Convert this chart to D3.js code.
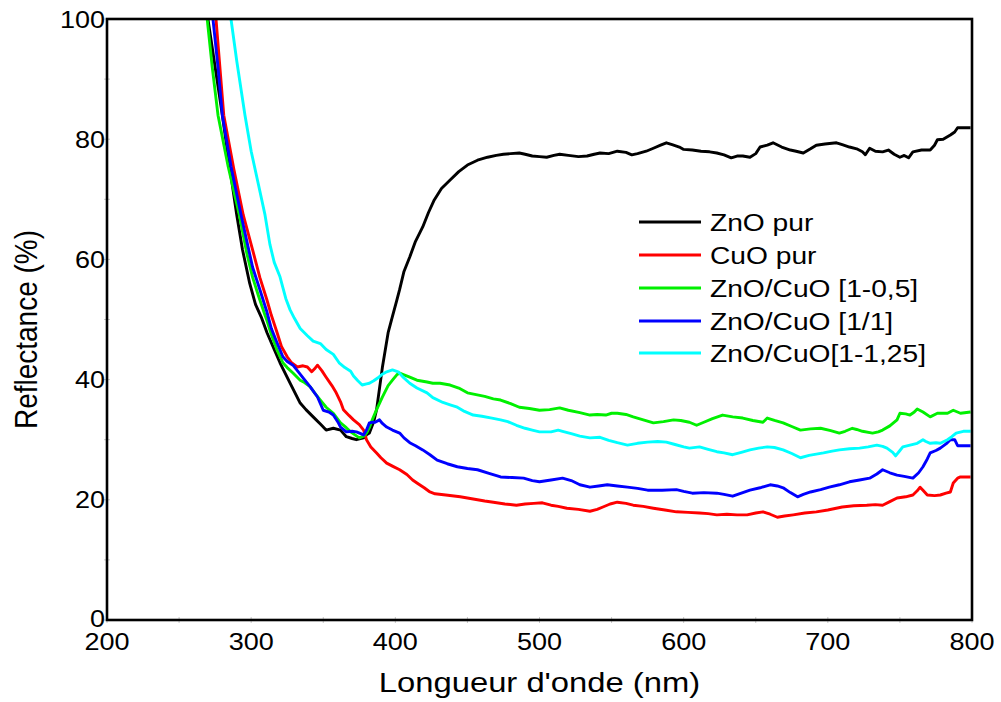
<!DOCTYPE html>
<html>
<head>
<meta charset="utf-8">
<script src="https://cdn.jsdelivr.net/npm/d3@7"></script>
<style>
  html, body { margin: 0; padding: 0; background: #fff; }
  svg { display: block; }
  text { font-family: "Liberation Sans", Arial, sans-serif; fill: #000; }
</style>
</head>
<body>
<svg id="chart" width="1001" height="702"></svg>
<script>
// Diffuse reflectance spectra, [wavelength (nm), reflectance (%)]
const znoPur = [[270,100],[275,92],[280,84],[285,75.5],[290,67.4],[294,61.6],[299,56],[303,52.5],[307,50.4],[311,47.8],[316,45],[320,42.8],[327,39.4],[334,36.1],[338,35],[343,33.8],[348,32.6],[352,31.6],[357,31.9],[362,31.6],[366,30.5],[370,30.2],[373,30],[378,30.3],[380,30.8],[382,31.1],[385,33],[387,35],[389,38.5],[391,42],[395,47.8],[398,50.5],[401,53.2],[403,55],[406,58],[410,60.4],[414,63],[419,65.4],[423,67.8],[427,69.9],[432,71.8],[438,73.2],[444,74.6],[450,75.7],[457,76.5],[464,77],[470,77.3],[475,77.5],[480,77.6],[486,77.7],[490,77.5],[495,77.2],[500,77.1],[505,77],[510,77.3],[514,77.5],[520,77.3],[527,77.1],[533,77.2],[538,77.5],[542,77.7],[548,77.6],[554,78],[560,77.8],[564,77.4],[568,77.6],[574,78],[579,78.5],[584,79],[588,79.4],[592,79.1],[597,78.7],[600,78.3],[606,78.2],[612,78],[618,77.9],[623,77.7],[628,77.4],[633,76.9],[637,77.2],[641,77.2],[646,77],[650,77.6],[653,78.7],[658,79],[662,79.4],[668,78.7],[674,78.2],[678,78],[683,77.7],[688,78.4],[692,79],[698,79.2],[706,79.4],[710,79.1],[715,78.7],[720,78.4],[724,77.9],[726,77.4],[729,78.5],[733,78],[738,77.9],[742,78.2],[746,77.5],[750,77],[753,77.3],[756,76.9],[759,77.9],[765,78.2],[771,78.2],[774,79],[776,79.9],[780,80],[785,80.7],[788,81.2],[790,81.9],[795,81.9],[799,81.9]];

const cuoPur = [[275.6,100],[281,84],[288,75],[294.5,67.4],[301,61.6],[306,57],[311,53.2],[314,50.7],[318,47.8],[321,45.5],[325,43.8],[328,42.8],[332,42.1],[336,42.3],[339,42.1],[342,41.3],[344,41.8],[346,42.4],[349,41.5],[352,40.4],[356,39],[359,37.8],[362,36.3],[364,35],[368,34],[371,33.3],[375,32.5],[378,31.6],[380,30],[383,28.8],[387,27.8],[390,27],[394,26.1],[398,25.6],[403,25],[408,24.2],[412,23.3],[415,22.8],[420,22],[424,21.3],[427.5,21],[435,20.8],[445,20.5],[455,20.1],[462,19.8],[468,19.6],[476,19.3],[484,19.1],[490,19.3],[496,19.4],[502,19.5],[508,19.1],[513,18.9],[519,18.6],[527,18.4],[535,18.1],[540,18.4],[544,18.8],[549,19.3],[554,19.6],[560,19.4],[565,19.1],[572,18.9],[579,18.6],[587,18.3],[595,18],[603,17.9],[611,17.8],[617,17.7],[623,17.5],[630,17.6],[637,17.5],[644,17.5],[650,17.8],[655,18],[660,17.6],[665,17.1],[670,17.3],[676,17.5],[684,17.8],[692,18],[700,18.3],[710,18.8],[718,19],[727,19.1],[733,19.2],[738,19.1],[743,19.7],[748,20.3],[754,20.5],[759,20.8],[762,21.5],[764,22.1],[766,21.6],[769,20.8],[774,20.7],[778,20.8],[782,21.1],[785,21.3],[787,22.8],[790,23.6],[792,23.8],[799,23.8]];

const mix1_05 = [[269.5,100],[273,92],[277,84],[284,75.5],[291.8,67.4],[297,61],[301,57],[305,54],[309.6,50.7],[311,49.8],[314,47.5],[318,44.9],[322,42.8],[325,42],[329,41.1],[334,39.9],[337,39.5],[341,38.8],[344,37.8],[348,36.6],[352,35.4],[357,34.4],[362,32.8],[366,32],[369,31.3],[372,30.8],[375,30.3],[378,30.6],[380,31.1],[382,32],[384,33.3],[387,35],[391,37.1],[395,39],[398,39.9],[401,40.8],[403,41.1],[406,40.8],[410,40.4],[415,39.9],[422,39.6],[426,39.4],[431,39.4],[438,39.1],[444,38.6],[450,37.8],[456,37.5],[462,37.2],[468,36.8],[473,36.6],[480,36],[486,35.4],[493,35.2],[500,34.9],[507,35],[514,35.3],[520,34.9],[528,34.5],[535,34.1],[540,34.2],[546,34.1],[550,34.4],[554,34.4],[560,34.2],[565,33.8],[572,33.3],[579,32.8],[586,33],[593,33.3],[598,33.2],[604,32.9],[609,32.4],[614,32.9],[620,33.5],[627,34.1],[634,33.8],[641,33.6],[648,33.2],[655,32.9],[658,33.6],[663,33.2],[669,32.8],[675,32.2],[681,31.6],[688,31.8],[695,31.9],[702,31.5],[708,31.1],[712,31.4],[717,31.9],[720,31.7],[724,31.4],[731,31.1],[735,31.3],[738,31.6],[743,32.3],[748,33.3],[750,34.4],[754,34.3],[757,34.1],[760,34.6],[762,35.1],[766,34.6],[771,33.8],[776,34.4],[780,34.4],[783,34.4],[787,34.9],[792,34.4],[799,34.6]];

const mix1_1 = [[273.5,100],[277,92],[280,84],[286,75.5],[293,67.4],[297,63],[301,58.7],[306,55],[311,51.2],[314,48.5],[318,46.1],[322,43.8],[325,43],[329,42.4],[333,41.2],[336,40.3],[341,38.8],[346,37.1],[350,34.9],[354,34.6],[357,34.1],[360,33],[362,32.1],[366,31.3],[370,31.4],[373,31.3],[376,31],[378,30.8],[380,31.6],[382,32.8],[384,32.9],[386,32.9],[389,33.3],[391,32.7],[394,32.1],[398,31.6],[403,31.1],[406,30.3],[410,29.5],[414,29],[419,28.3],[424,27.5],[429,26.6],[436,26],[443,25.5],[450,25.2],[457,25],[465,24.4],[473,23.8],[481,23.7],[489,23.6],[495,23.2],[500,23],[508,23.3],[516,23.6],[522,23.2],[528,22.5],[535,22.1],[541,22.3],[547,22.5],[554,22.3],[561,22.1],[568,21.9],[575,21.6],[585,21.6],[595,21.7],[600,21.4],[606,21.1],[614,21.2],[623,21.1],[628,20.9],[634,20.6],[640,21.1],[646,21.6],[653,22],[660,22.5],[665,22.3],[669,22],[674,21.2],[679,20.5],[683,20.9],[688,21.3],[695,21.7],[701,22.1],[708,22.5],[715,23],[722,23.3],[729,23.6],[734,24.3],[738,25],[743,24.5],[748,24.1],[753,23.9],[759,23.6],[763,24.5],[766,25.5],[769,26.8],[771,27.8],[775,28.2],[778,28.6],[782,29.3],[785,30],[788,30],[790,29],[795,29],[799,29]];

const mix1_125 = [[286,100],[290,93],[295.7,84],[300,78],[305,72.5],[309.6,67.4],[313,62.5],[316,59.5],[320,57.1],[324,53.5],[327,51.6],[330,50.2],[334,48.5],[339,47.3],[343,46.4],[348,46],[352,45],[357,44.2],[361,42.8],[365,42],[369,41.4],[371,40.6],[374,39.8],[377,39.1],[380,39.3],[382,39.4],[385,39.8],[388,40.3],[391,40.9],[394,41.3],[398,41.6],[402,41.3],[405,40.5],[410,39.4],[415,38.6],[422,37.8],[426,37],[433,36.2],[438,35.8],[443,35.4],[448,34.7],[454,34.1],[460,33.9],[467,33.6],[473,33.3],[478,33],[484,32.4],[490,31.9],[495,31.6],[500,31.3],[508,31.3],[513,31.6],[516,31.4],[522,31],[528,30.6],[535,30.3],[542,30.4],[548,29.9],[554,29.5],[561,29.1],[568,29.4],[575,29.6],[582,29.7],[588,29.6],[594,29.2],[600,28.8],[604,28.6],[611,28.8],[617,28.4],[623,28],[628,27.8],[634,27.5],[640,27.9],[646,28.3],[652,28.6],[658,28.8],[663,28.7],[669,28.3],[675,27.7],[681,27],[687,27.4],[692,27.6],[697,27.8],[703,28.1],[708,28.3],[715,28.5],[722,28.6],[728,28.8],[734,29.1],[738,28.9],[741,28.6],[745,27.9],[747,27.3],[750,28.2],[752,28.8],[757,29.1],[762,29.4],[766,30],[768,29.7],[771,29.4],[775,29.5],[778,29.4],[783,30],[786,30.5],[789,31.1],[794,31.4],[799,31.4]];

const seriesNames = ["ZnO pur", "CuO pur", "ZnO/CuO [1-0,5]", "ZnO/CuO [1/1]", "ZnO/CuO[1-1,25]"];
const seriesColors = ["#000000", "#ff0000", "#00f000", "#0000ff", "#00ffff"];
const seriesData = [znoPur, cuoPur, mix1_05, mix1_1, mix1_125];

const xTicks = [200, 300, 400, 500, 600, 700, 800];
const xMinorTicks = [250, 350, 450, 550, 650, 750];
const yTicks = [0, 20, 40, 60, 80, 100];
const yMinorTicks = [10, 30, 50, 70, 90];

const svg = d3.select("#chart");
const plotLeft = 107, plotRight = 972, plotTop = 19, plotBottom = 620;
const x = d3.scaleLinear().domain([200, 800]).range([plotLeft, plotRight]);
const y = d3.scaleLinear().domain([0, 100]).range([plotBottom, plotTop]);
const stretch = 1.15;

function label(str, px, py, size, anchor) {
  return svg.append("text")
    .attr("transform", `translate(${px},${py}) scale(${stretch},1)`)
    .attr("text-anchor", anchor)
    .style("font-size", size + "px")
    .text(str);
}

svg.append("clipPath").attr("id", "plot-clip")
  .append("rect").attr("x", plotLeft).attr("y", plotTop)
  .attr("width", plotRight - plotLeft).attr("height", plotBottom - plotTop);

// faint tick marks along the bottom and left edges
const tickG = svg.append("g").attr("stroke", "#c8c8c8").attr("stroke-width", 1);
xTicks.concat(xMinorTicks).forEach(t => {
  tickG.append("line").attr("x1", x(t)).attr("x2", x(t)).attr("y1", plotBottom - 3).attr("y2", plotBottom + 3);
});
yTicks.concat(yMinorTicks).forEach(t => {
  tickG.append("line").attr("x1", plotLeft - 3).attr("x2", plotLeft + 3).attr("y1", y(t)).attr("y2", y(t));
});

// spectra
const line = d3.line().x(d => x(d[0])).y(d => y(d[1]));
const plot = svg.append("g").attr("clip-path", "url(#plot-clip)");
seriesData.forEach((data, i) => {
  plot.append("path")
    .datum(data)
    .attr("fill", "none")
    .attr("stroke", seriesColors[i])
    .attr("stroke-width", 2.9)
    .attr("stroke-linejoin", "round")
    .attr("d", line);
});

// frame
svg.append("rect")
  .attr("x", plotLeft).attr("y", plotTop)
  .attr("width", plotRight - plotLeft).attr("height", plotBottom - plotTop)
  .attr("fill", "none").attr("stroke", "#000").attr("stroke-width", 2.6);

// tick labels ("0" sits tight against the corner, just above the "200")
xTicks.forEach(t => label(String(t), x(t), plotBottom + 29.5, 23.5, "middle"));
yTicks.forEach(t => label(String(t), plotLeft - 2, y(t) + (t === 0 ? 6.5 : 8.5), 23.5, "end"));

// axis titles
label("Longueur d'onde (nm)", (plotLeft + plotRight) / 2, 692, 28.5, "middle");
svg.append("text")
  .attr("transform", `translate(37,${(plotTop + plotBottom) / 2 + 10}) scale(${stretch},1) rotate(-90)`)
  .attr("text-anchor", "middle")
  .style("font-size", "28px")
  .text("Reflectance (%)");

// legend
const legendY = [222, 255, 288, 321, 353];
seriesNames.forEach((name, i) => {
  svg.append("line")
    .attr("x1", 639).attr("x2", 701)
    .attr("y1", legendY[i]).attr("y2", legendY[i])
    .attr("stroke", seriesColors[i]).attr("stroke-width", 3);
  label(name, 710, legendY[i] + 9, 24.5, "start");
});
</script>
</body>
</html>
